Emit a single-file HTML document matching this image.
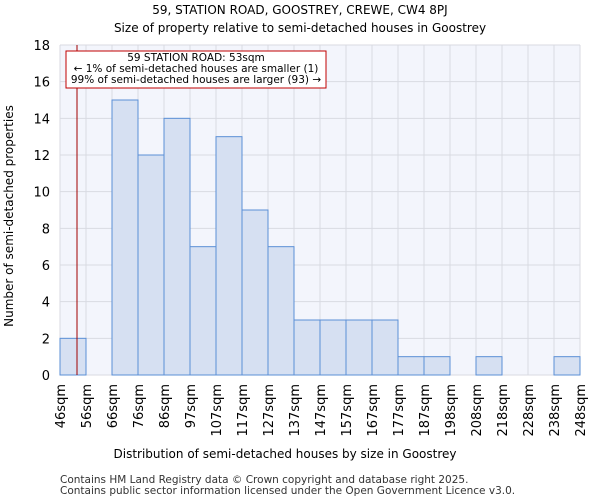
<!DOCTYPE html>
<html><head><meta charset="utf-8"><style>
body{margin:0;background:#fff;font-family:"DejaVu Sans","Liberation Sans",sans-serif;}
</style></head><body>
<svg width="600" height="500" xmlns="http://www.w3.org/2000/svg" font-family="DejaVu Sans, Liberation Sans, sans-serif">
<text x="300" y="14" text-anchor="middle" font-size="12">59, STATION ROAD, GOOSTREY, CREWE, CW4 8PJ</text>
<text x="300" y="32" text-anchor="middle" font-size="12">Size of property relative to semi-detached houses in Goostrey</text>
<rect x="60" y="45" width="520" height="330" fill="#f3f5fc"/>
<g id="grid"></g><g id="bars"></g><g id="axes"></g>
<line x1="77" y1="45" x2="77" y2="375" stroke="#a00000" stroke-width="1"/>
<rect x="66" y="51" width="260" height="37" fill="#fff" stroke="#c00000"/>
<text x="196" y="61" text-anchor="middle" font-size="10.5">59 STATION ROAD: 53sqm</text>
<text x="196" y="72" text-anchor="middle" font-size="10.5">← 1% of semi-detached houses are smaller (1)</text>
<text x="196" y="83" text-anchor="middle" font-size="10.5">99% of semi-detached houses are larger (93) →</text>
<text x="285" y="458" text-anchor="middle" font-size="12">Distribution of semi-detached houses by size in Goostrey</text>
<text transform="translate(13,216) rotate(-90)" text-anchor="middle" font-size="12">Number of semi-detached properties</text>
<text x="60" y="483" font-size="10.5" fill="#333">Contains HM Land Registry data © Crown copyright and database right 2025.</text>
<text x="60" y="494" font-size="10.5" fill="#333">Contains public sector information licensed under the Open Government Licence v3.0.</text>
</svg>
<script>
const categories=["46sqm","56sqm","66sqm","76sqm","86sqm","97sqm","107sqm","117sqm","127sqm","137sqm","147sqm","157sqm","167sqm","177sqm","187sqm","198sqm","208sqm","218sqm","228sqm","238sqm","248sqm"];
const counts=[2,0,15,12,14,7,13,9,7,3,3,3,3,1,1,0,1,0,0,1];
const yTicks=[0,2,4,6,8,10,12,14,16,18];
const NS="http://www.w3.org/2000/svg";
const X0=60,X1=580,Y0=375,Y1=45,YMAX=18;
const bw=(X1-X0)/counts.length;
const xs=i=>X0+i*bw, ys=v=>Y0-(v/YMAX)*(Y0-Y1);
function mk(t,a,p){const e=document.createElementNS(NS,t);for(const k in a)e.setAttribute(k,a[k]);p.appendChild(e);return e;}
const grid=document.getElementById('grid'),bars=document.getElementById('bars'),axes=document.getElementById('axes');
yTicks.forEach(v=>{
 const l=mk('line',{x1:X0,x2:X1,y1:ys(v),y2:ys(v),stroke:'#d8dae2'},grid);
 
 
 const t=mk('text',{x:X0-10,y:ys(v)+5,'text-anchor':'end','font-size':'13'},axes);
 t.textContent=v;
 
 
});
categories.forEach((c,i)=>{
 const l=mk('line',{x1:xs(i),x2:xs(i),y1:Y1,y2:Y0,stroke:'#d8dae2'},grid);
 
 
 const t=mk('text',{transform:`translate(${xs(i)+5},384) rotate(-90)`,'text-anchor':'end','font-size':'13'},axes);
 t.textContent=c;
 
 
});
counts.forEach((v,i)=>{
 if(v<=0)return;
 const r=mk('rect',{x:xs(i),y:ys(v),width:bw,height:Y0-ys(v),fill:'#d6e0f2',stroke:'#5b8fd6','stroke-width':1},bars);
 
 
});
</script>
</body></html>
